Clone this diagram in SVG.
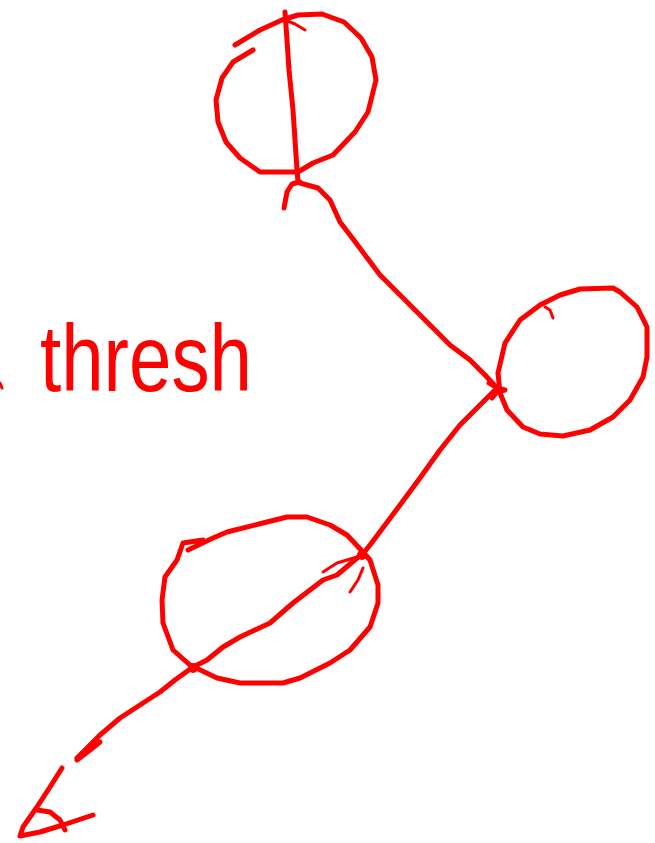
<svg xmlns="http://www.w3.org/2000/svg" width="655" height="843" viewBox="0 0 655 843">
<style>
.ink{fill:none;stroke:#ff0000;stroke-width:5;stroke-linecap:round;stroke-linejoin:round}
.thin{fill:none;stroke:#ff0000;stroke-width:3;stroke-linecap:round;stroke-linejoin:round}
.lbl{fill:#ff0000;font-family:"Liberation Sans",Arial,sans-serif;font-size:95px}
</style>
<rect width="655" height="843" fill="#ffffff"/>
<g id="node-top">
<polyline class="ink" points="253,50 233,62 222,78 216,100 218,122 226,142 240,158 260,172 298,172 313,163 333,155 355,132 368,112 376,80 372,57 361,38 344,22 322,14 298,15 282,20 260,30 235,45"/>
<polyline class="thin" points="285,20 295,24 305,30"/>
</g>
<g id="node-right">
<polyline class="ink" points="540,305 520,320 505,343 498,373 500,393 507,410 523,427 540,434 563,436 590,430 613,417 630,400 643,377 647,357 647,327 637,307 620,292 613,288 580,289 560,295 540,305"/>
<polyline class="thin" points="545,307 550,310 553,318"/>
</g>
<g id="node-bottom">
<polyline class="ink" points="203,540 183,543 177,560 165,577 162,600 163,623 173,650 190,665 217,678 240,683 283,683 300,678 330,663 350,650 370,627 378,603 378,585 370,560 363,552 347,535 330,525 307,517 287,517 263,523 227,532 213,538 188,550"/>
</g>
<g id="label-thresh">
<text class="lbl" x="40" y="391" textLength="212" lengthAdjust="spacingAndGlyphs">thresh</text>
<line class="thin" x1="0" y1="383" x2="2" y2="388"/>
</g>
<g id="connectors">
<polyline class="ink" points="285,12 287,40 289,70 293,110 295,140 297,170 298,182"/>
<polyline class="ink" points="284,208 287,192 292,184 300,182"/>
<polyline class="ink" points="300,183 318,188 330,200 340,222 350,235 365,255 380,275 395,290 410,305 430,325 450,345 470,360 485,375 497,388"/>
<polyline class="ink" points="489,383 497,388 505,390 497,392 492,398"/>
<polyline class="ink" points="497,388 480,405 460,425 440,450 420,478 400,505 385,525 370,545 362,555"/>
<polyline class="ink" points="363,553 337,575 323,580 293,603 270,623 240,637 223,647 207,660 193,667 175,680 160,692 140,705 120,718 100,735 85,750 77,758"/>
<polyline class="thin" points="323,572 337,563 357,557"/>
<polyline class="thin" points="350,592 358,580 363,568"/>
<circle cx="362" cy="555" r="5" fill="#ff0000"/>
<circle cx="193" cy="668" r="5" fill="#ff0000"/>
<polyline class="ink" points="77,760 90,750 100,742"/>
<polyline class="ink" points="62,768 50,787 37,807 23,827 20,836 40,832 63,825 93,815"/>
<polyline class="ink" points="37,810 50,812 60,820 65,830"/>
</g>
</svg>
